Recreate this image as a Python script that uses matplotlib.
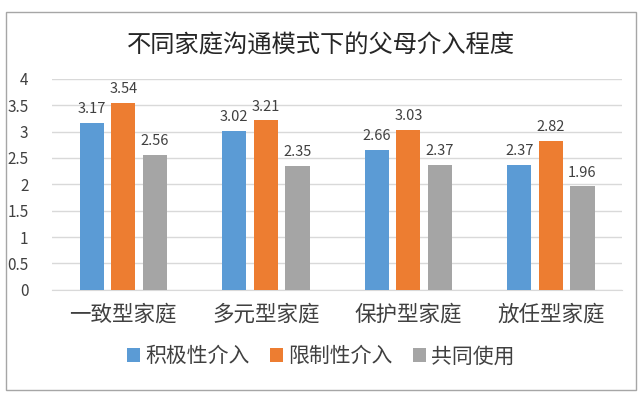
import numpy as np
import matplotlib
matplotlib.use("Agg")
import matplotlib.pyplot as plt
from matplotlib.patches import Rectangle

plt.rcParams['font.family'] = ['Noto Sans CJK SC', 'DejaVu Sans']

# data
categories = ["一致型家庭", "多元型家庭", "保护型家庭", "放任型家庭"]
series_names = ["积极性介入", "限制性介入", "共同使用"]
positive = [3.17, 3.02, 2.66, 2.37]
restrictive = [3.54, 3.21, 3.03, 2.82]
shared = [2.56, 2.35, 2.37, 1.96]
colors = ["#5B9BD5", "#ED7D31", "#A5A5A5"]

fig = plt.figure(figsize=(6.42, 3.96), dpi=100)
fig.patches.append(Rectangle((0.009, 0.015), 0.982, 0.955, transform=fig.transFigure,
                             fill=False, edgecolor="#A6A6A6", linewidth=1))
ax = fig.add_axes([0.081, 0.268, 0.888, 0.533])

x = np.arange(len(categories))
width = 0.17
step = 0.222
for i, (vals, name, c) in enumerate(zip([positive, restrictive, shared], series_names, colors)):
    bars = ax.bar(x + (i - 1) * step, vals, width, color=c, label=name, zorder=3)
    for b, v in zip(bars, vals):
        ax.annotate(f"{v:.2f}", (b.get_x() + b.get_width() / 2, v), xytext=(0, 5),
                    textcoords="offset points", ha="center", va="bottom",
                    fontsize=10.5, color="#404040")

ax.set_xlim(-0.5, 3.5)
ax.set_ylim(0, 4)
ax.set_yticks(np.arange(0, 4.01, 0.5))
ax.set_yticklabels(["0", "0.5", "1", "1.5", "2", "2.5", "3", "3.5", "4"])
ax.set_xticks(x)
ax.set_xticklabels(categories, fontsize=15.5, color="#404040")
ax.tick_params(axis="y", labelsize=11, labelcolor="#404040", length=0, pad=17)
ax.tick_params(axis="x", length=0, pad=10)
ax.grid(axis="y", color="#D9D9D9", linewidth=1, zorder=0)
for s in ["top", "right", "left"]:
    ax.spines[s].set_visible(False)
ax.spines["bottom"].set_color("#D9D9D9")

fig.text(0.5, 0.885, "不同家庭沟通模式下的父母介入程度", ha="center", va="center",
         fontsize=17.5, color="#262626")
fig.legend(loc="center", bbox_to_anchor=(0.5, 0.1), ncol=3, frameon=False,
           fontsize=15, handlelength=0.6, handleheight=0.6, handletextpad=0.25,
           columnspacing=1.0, labelcolor="#404040")

fig.savefig("out.png", dpi=100)
